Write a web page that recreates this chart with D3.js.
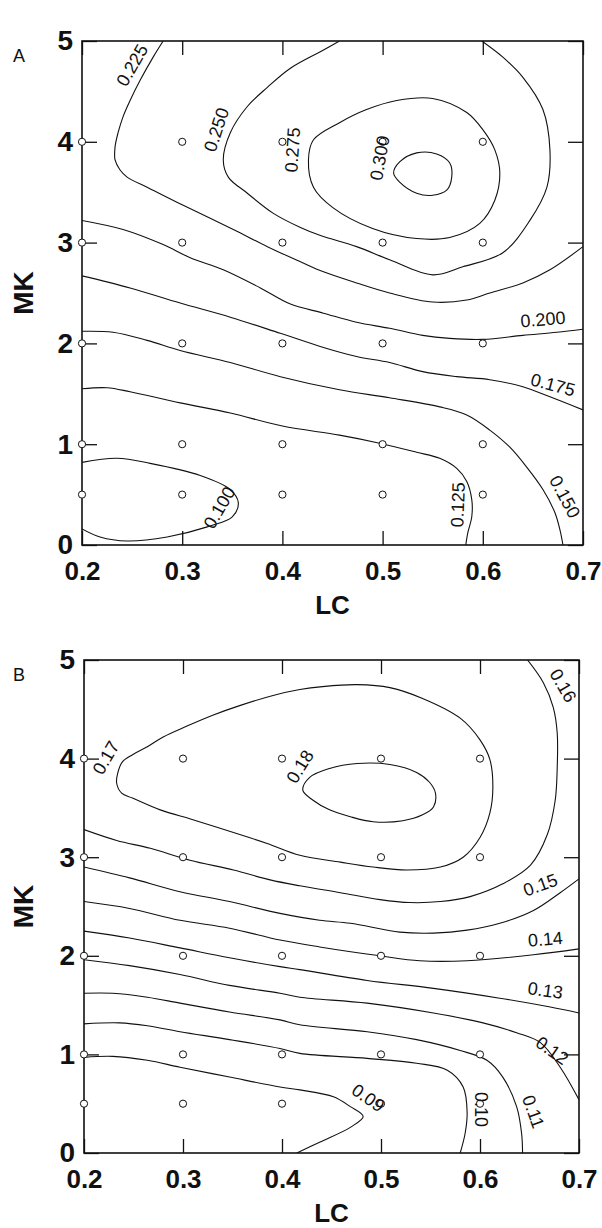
<!DOCTYPE html>
<html>
<head>
<meta charset="utf-8">
<script src="https://cdn.jsdelivr.net/npm/d3@7"></script>
<style>
  body { margin: 0; background: #fff; }
  svg { display: block; font-family: "Liberation Sans", Arial, sans-serif; }
</style>
</head>
<body>
<div id="chart"></div>
<script>
// axis ticks and sampled design points
var lcTicks = [0.2, 0.3, 0.4, 0.5, 0.6, 0.7];
var mkTicks = [0, 1, 2, 3, 4, 5];
var sampleLC = [0.2, 0.3, 0.4, 0.5, 0.6];
var sampleMK = [0.5, 1, 2, 3, 4];

// panel A contour lines, [LC, MK]
var a100 = [[0.2,0.82],[0.235,0.86],[0.268,0.81],[0.318,0.69],[0.348,0.55],[0.356,0.42],[0.350,0.28],[0.325,0.18],[0.285,0.08],[0.245,0.04],[0.218,0.08],[0.2,0.16]];
var a125 = [[0.2,1.55],[0.225,1.56],[0.248,1.52],[0.298,1.41],[0.348,1.31],[0.400,1.18],[0.457,1.09],[0.497,1.01],[0.534,0.92],[0.557,0.86],[0.574,0.76],[0.584,0.63],[0.589,0.45],[0.589,0.28],[0.585,0.12],[0.583,0]];
var a150 = [[0.2,2.12],[0.231,2.11],[0.265,2.03],[0.298,1.93],[0.348,1.81],[0.398,1.67],[0.457,1.54],[0.507,1.46],[0.557,1.37],[0.584,1.29],[0.607,1.14],[0.627,0.97],[0.644,0.77],[0.660,0.55],[0.672,0.32],[0.677,0.15],[0.680,0]];
var a175 = [[0.2,2.67],[0.248,2.55],[0.298,2.40],[0.348,2.26],[0.398,2.10],[0.441,1.96],[0.474,1.87],[0.507,1.81],[0.540,1.72],[0.574,1.67],[0.607,1.64],[0.640,1.57],[0.667,1.47],[0.700,1.34]];
var a200 = [[0.2,3.22],[0.241,3.13],[0.281,2.98],[0.308,2.85],[0.341,2.73],[0.378,2.55],[0.408,2.39],[0.441,2.30],[0.474,2.21],[0.507,2.15],[0.540,2.08],[0.567,2.05],[0.600,2.04],[0.640,2.08],[0.674,2.11],[0.700,2.14]];
var a225 = [[0.281,5.0],[0.271,4.84],[0.258,4.61],[0.248,4.41],[0.241,4.25],[0.236,4.09],[0.233,3.95],[0.233,3.82],[0.238,3.72],[0.245,3.65],[0.265,3.55],[0.301,3.37],[0.351,3.13],[0.385,2.96],[0.418,2.81],[0.441,2.71],[0.474,2.60],[0.507,2.50],[0.550,2.41],[0.584,2.43],[0.607,2.50],[0.640,2.60],[0.667,2.73],[0.700,2.96]];
var a250 = [[0.457,5.0],[0.441,4.91],[0.408,4.73],[0.385,4.54],[0.365,4.35],[0.348,4.09],[0.341,3.82],[0.346,3.65],[0.365,3.49],[0.391,3.29],[0.418,3.15],[0.438,3.07],[0.474,2.96],[0.507,2.83],[0.550,2.68],[0.580,2.76],[0.620,2.90],[0.647,3.22],[0.664,3.55],[0.667,3.92],[0.660,4.32],[0.640,4.64],[0.620,4.84],[0.599,5.0]];
var a275 = [[0.426,3.82],[0.431,4.02],[0.457,4.19],[0.484,4.32],[0.514,4.41],[0.550,4.43],[0.584,4.29],[0.600,4.12],[0.612,3.92],[0.617,3.69],[0.612,3.42],[0.597,3.19],[0.567,3.05],[0.534,3.04],[0.490,3.14],[0.450,3.35],[0.431,3.55]];
var a300 = [[0.511,3.69],[0.517,3.80],[0.534,3.89],[0.554,3.88],[0.567,3.79],[0.569,3.65],[0.564,3.52],[0.550,3.47],[0.534,3.49],[0.517,3.60]];

// panel B contour lines
var b090 = [[0.2,0.97],[0.229,0.98],[0.264,0.94],[0.297,0.87],[0.347,0.77],[0.398,0.67],[0.418,0.64],[0.452,0.57],[0.469,0.47],[0.482,0.37],[0.469,0.26],[0.438,0.11],[0.415,0]];
var b100 = [[0.2,1.31],[0.236,1.32],[0.264,1.29],[0.297,1.23],[0.347,1.15],[0.398,1.06],[0.418,1.01],[0.486,0.96],[0.536,0.91],[0.567,0.84],[0.583,0.67],[0.587,0.41],[0.585,0.20],[0.580,0]];
var b110 = [[0.2,1.62],[0.229,1.62],[0.264,1.58],[0.297,1.52],[0.347,1.43],[0.398,1.35],[0.418,1.30],[0.486,1.23],[0.536,1.15],[0.580,1.04],[0.607,0.94],[0.623,0.77],[0.637,0.47],[0.642,0.20],[0.643,0]];
var b120 = [[0.2,1.96],[0.246,1.90],[0.297,1.81],[0.347,1.70],[0.398,1.62],[0.418,1.58],[0.486,1.52],[0.553,1.42],[0.603,1.32],[0.637,1.22],[0.661,1.12],[0.681,0.87],[0.700,0.54]];
var b130 = [[0.2,2.25],[0.246,2.18],[0.297,2.08],[0.347,1.98],[0.398,1.89],[0.418,1.86],[0.486,1.75],[0.553,1.67],[0.620,1.57],[0.671,1.48],[0.700,1.42]];
var b140 = [[0.2,2.55],[0.246,2.48],[0.297,2.36],[0.347,2.28],[0.398,2.16],[0.438,2.09],[0.499,2.00],[0.539,1.95],[0.587,1.95],[0.654,2.01],[0.700,2.07]];
var b150 = [[0.2,2.90],[0.246,2.79],[0.297,2.65],[0.347,2.55],[0.398,2.43],[0.438,2.36],[0.469,2.33],[0.519,2.24],[0.553,2.23],[0.587,2.26],[0.620,2.33],[0.654,2.46],[0.681,2.64],[0.700,2.78]];
var b160 = [[0.2,3.28],[0.233,3.17],[0.267,3.09],[0.307,2.97],[0.351,2.87],[0.388,2.77],[0.418,2.71],[0.459,2.64],[0.499,2.57],[0.529,2.54],[0.560,2.55],[0.590,2.60],[0.623,2.73],[0.651,2.92],[0.668,3.23],[0.676,3.58],[0.678,3.91],[0.678,4.26],[0.674,4.52],[0.664,4.77],[0.648,5.0]];
var b170 = [[0.418,4.70],[0.391,4.64],[0.358,4.54],[0.330,4.44],[0.304,4.33],[0.280,4.22],[0.264,4.12],[0.249,4.04],[0.239,3.97],[0.234,3.85],[0.233,3.75],[0.238,3.65],[0.249,3.60],[0.277,3.48],[0.310,3.38],[0.351,3.25],[0.385,3.14],[0.418,3.02],[0.459,2.95],[0.492,2.90],[0.526,2.87],[0.560,2.90],[0.583,3.00],[0.600,3.20],[0.610,3.45],[0.613,3.71],[0.610,3.99],[0.600,4.19],[0.580,4.41],[0.542,4.61],[0.509,4.72],[0.476,4.75],[0.441,4.73]];
var b180 = [[0.421,3.68],[0.428,3.81],[0.448,3.90],[0.476,3.95],[0.509,3.94],[0.536,3.86],[0.549,3.76],[0.555,3.65],[0.553,3.51],[0.542,3.43],[0.522,3.37],[0.492,3.36],[0.469,3.41],[0.448,3.48],[0.431,3.58]];

// contour labels: text, LC, MK, angle
var labelsA = [["0.225",0.250,4.76,-60],["0.250",0.334,4.12,-72],["0.275",0.410,3.92,-86],["0.300",0.497,3.84,-80],
  ["0.200",0.660,2.24,-5],["0.175",0.670,1.59,15],["0.150",0.682,0.48,62],["0.125",0.575,0.40,-88],["0.100",0.337,0.37,-60]];
var labelsB = [["0.17",0.222,4.01,-60],["0.18",0.418,3.92,-58],["0.16",0.684,4.74,60],["0.15",0.661,2.72,-20],
  ["0.14",0.666,2.17,-5],["0.13",0.666,1.65,8],["0.12",0.673,1.04,35],["0.11",0.654,0.42,70],["0.10",0.601,0.44,90],["0.09",0.487,0.56,35]];

var svg = d3.select("#chart").append("svg")
    .attr("width", 602)
    .attr("height", 1228);

var points = [];
sampleLC.forEach(function(lc){
    sampleMK.forEach(function(mk){ points.push([lc, mk]); });
});

drawPanel({ id: "A", left: 82, right: 583, top: 41, bottom: 545,
    open: [a100, a125, a150, a175, a200, a225, a250], closed: [a275, a300], labels: labelsA });
drawPanel({ id: "B", left: 84, right: 579, top: 660, bottom: 1153,
    open: [b090, b100, b110, b120, b130, b140, b150, b160], closed: [b170, b180], labels: labelsB });

function drawPanel(p){
    var x = d3.scaleLinear().domain([0.2, 0.7]).range([p.left, p.right]);
    var y = d3.scaleLinear().domain([0, 5]).range([p.bottom, p.top]);

    var g = svg.append("g");

    g.append("clipPath").attr("id", "clip" + p.id)
        .append("rect")
        .attr("x", p.left).attr("y", p.top)
        .attr("width", p.right - p.left).attr("height", p.bottom - p.top);

    var lineOpen = d3.line()
        .x(function(d){ return x(d[0]); })
        .y(function(d){ return y(d[1]); })
        .curve(d3.curveCatmullRom.alpha(0.5));
    var lineClosed = d3.line()
        .x(function(d){ return x(d[0]); })
        .y(function(d){ return y(d[1]); })
        .curve(d3.curveCatmullRomClosed.alpha(0.5));

    var cg = g.append("g").attr("clip-path", "url(#clip" + p.id + ")")
        .attr("fill", "none").attr("stroke", "#111").attr("stroke-width", 1.1);
    cg.selectAll("path.open").data(p.open).enter().append("path")
        .attr("class", "open").attr("d", lineOpen);
    cg.selectAll("path.closed").data(p.closed).enter().append("path")
        .attr("class", "closed").attr("d", lineClosed);

    // axes, ticks pointing inward
    var fmt = function(d){ return d3.format(".1f")(d); };
    var xb = g.append("g").attr("transform", "translate(0," + p.bottom + ")")
        .call(d3.axisBottom(x).tickValues(lcTicks).tickFormat(fmt).tickSizeInner(-14).tickSizeOuter(0).tickPadding(17));
    var xt = g.append("g").attr("transform", "translate(0," + p.top + ")")
        .call(d3.axisTop(x).tickValues(lcTicks).tickFormat("").tickSizeInner(-14).tickSizeOuter(0));
    var yl = g.append("g").attr("transform", "translate(" + p.left + ",0)")
        .call(d3.axisLeft(y).tickValues(mkTicks).tickFormat(d3.format("d")).tickSizeInner(-15).tickSizeOuter(0).tickPadding(9));
    var yr = g.append("g").attr("transform", "translate(" + p.right + ",0)")
        .call(d3.axisRight(y).tickValues(mkTicks).tickFormat("").tickSizeInner(-15).tickSizeOuter(0));

    [xb, xt, yl, yr].forEach(function(a){
        a.select(".domain").remove();
        a.selectAll(".tick line").attr("stroke", "#111").attr("stroke-width", 1.3);
    });
    xb.selectAll("text").attr("font-size", 26).attr("font-weight", "bold").attr("fill", "#111")
        .attr("font-family", "Liberation Sans, Arial, sans-serif");
    yl.selectAll("text").attr("font-size", 28).attr("font-weight", "bold").attr("fill", "#111")
        .attr("font-family", "Liberation Sans, Arial, sans-serif");

    g.append("rect")
        .attr("x", p.left).attr("y", p.top)
        .attr("width", p.right - p.left).attr("height", p.bottom - p.top)
        .attr("fill", "none").attr("stroke", "#111").attr("stroke-width", 1.6);

    // design points
    g.selectAll("circle.pt").data(points).enter().append("circle")
        .attr("class", "pt")
        .attr("cx", function(d){ return x(d[0]); })
        .attr("cy", function(d){ return y(d[1]); })
        .attr("r", 3.6)
        .attr("fill", "#fff").attr("stroke", "#111").attr("stroke-width", 1);

    // contour labels
    g.selectAll("text.lab").data(p.labels).enter().append("text")
        .attr("class", "lab")
        .attr("transform", function(d){ return "translate(" + x(d[1]) + "," + y(d[2]) + ") rotate(" + d[3] + ")"; })
        .attr("text-anchor", "middle")
        .attr("dy", "0.35em")
        .attr("font-size", 18)
        .attr("fill", "#111")
        .text(function(d){ return d[0]; });

    // titles
    g.append("text")
        .attr("x", (p.left + p.right) / 2).attr("y", p.bottom + 69)
        .attr("text-anchor", "middle").attr("font-size", 26).attr("font-weight", "bold").attr("fill", "#111")
        .text("LC");
    g.append("text")
        .attr("transform", "translate(33," + (p.top + p.bottom) / 2 + ") rotate(-90)")
        .attr("text-anchor", "middle").attr("font-size", 28).attr("font-weight", "bold").attr("fill", "#111")
        .text("MK");
    g.append("text")
        .attr("x", 13).attr("y", p.top + 21)
        .attr("font-size", 18).attr("fill", "#111")
        .text(p.id);
}
</script>
</body>
</html>
